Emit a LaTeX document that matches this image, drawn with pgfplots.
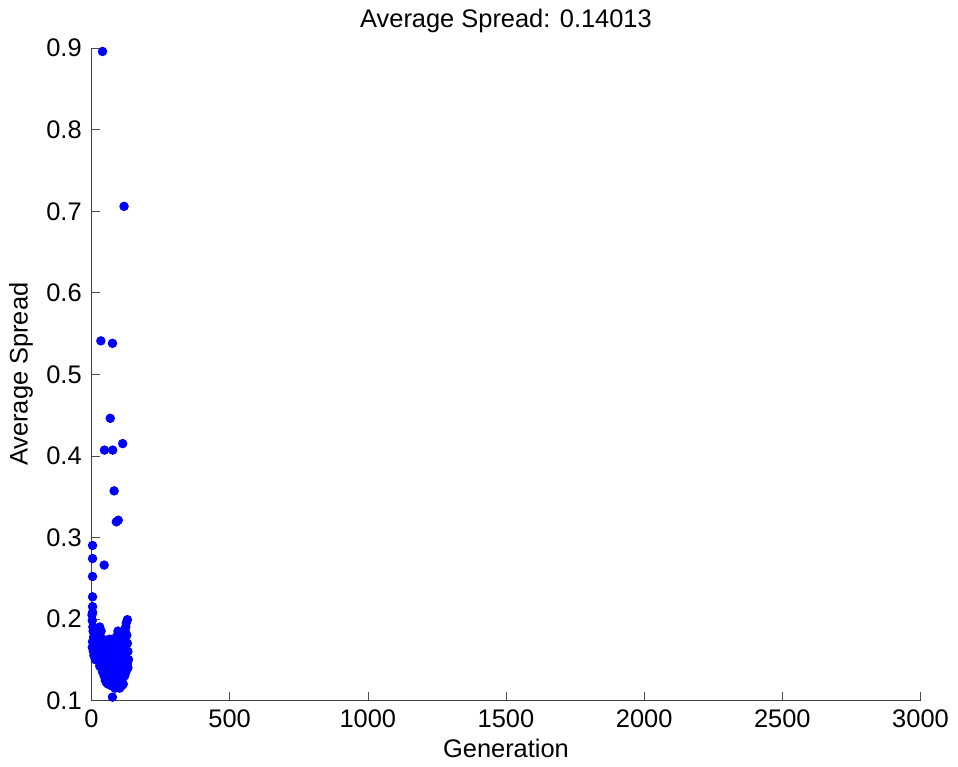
\documentclass[border=0pt]{standalone}
\usepackage{pgfplots}
\pgfplotsset{compat=1.18}
\usepackage{fontspec}
\setmainfont{Liberation Sans}

\begin{document}
\begin{tikzpicture}
\begin{axis}[
  scale only axis,
  width=300pt, height=236pt,
  xmin=0, xmax=3000, ymin=0.1, ymax=0.9,
  axis x line*=bottom, axis y line*=left,
  axis line style={-, black!75},
  xtick={0,500,...,3000},
  ytick={0.1,0.2,...,0.9},
  tick align=inside,
  major tick length=3pt,
  tick style={black!70},
  /pgf/number format/assume math mode=true,
  xticklabel style={/pgf/number format/1000 sep={}},
  yticklabel style={/pgf/number format/.cd, fixed, fixed zerofill, precision=1},
  ticklabel style={font=\fontsize{9.2}{11}\selectfont},
  label style={font=\fontsize{9.2}{11}\selectfont},
  title style={font=\fontsize{9.2}{11}\selectfont, yshift=-4pt},
  title={Average Spread: 0.14013},
  xlabel={Generation},
  ylabel={Average Spread},
  xlabel style={yshift=3pt},
  ylabel style={yshift=-2pt},
  clip=false,
]
\addplot[only marks, mark=*, mark size=1.5pt, color=blue, mark options={fill=blue, draw=blue}]
coordinates {
(40,0.896) (118,0.706) (34,0.541) (76,0.538) (68,0.446) (47,0.407) (77,0.407)
(113,0.415) (82,0.357) (90,0.319) (97,0.321) (4,0.290) (4,0.274) (46,0.266)
(4,0.252) (4,0.227) (4,0.215) (4,0.208) (130,0.199) (76,0.104)
(2,0.205) (3,0.198) (5,0.190) (6,0.185) (8,0.178) (4,0.172) (10,0.170)
(12,0.165) (7,0.160) (15,0.175) (18,0.168) (20,0.160) (3,0.165) (9,0.155)
(14,0.150) (22,0.182) (25,0.175) (28,0.170) (30,0.190) (35,0.185) (33,0.165)
(38,0.160) (40,0.155) (42,0.175) (45,0.170) (24,0.155) (27,0.148) (30,0.142)
(34,0.150) (36,0.140) (40,0.135) (44,0.145) (48,0.150) (50,0.160) (46,0.130)
(50,0.125) (52,0.140) (55,0.135) (55,0.155) (58,0.148) (60,0.120) (62,0.130)
(64,0.140) (66,0.150) (68,0.160) (60,0.165) (65,0.175) (70,0.130) (72,0.118)
(74,0.125) (76,0.140) (78,0.150) (80,0.135) (82,0.120) (84,0.128) (86,0.145)
(88,0.155) (90,0.165) (92,0.175) (94,0.180) (85,0.170) (80,0.160) (96,0.185)
(98,0.170) (100,0.160) (102,0.150) (104,0.140) (106,0.130) (108,0.120)
(110,0.125) (112,0.135) (114,0.145) (116,0.155) (118,0.165) (120,0.175)
(122,0.185) (124,0.190) (126,0.195) (128,0.180) (130,0.170) (132,0.160)
(134,0.150) (130,0.145) (128,0.140) (125,0.135) (120,0.130) (115,0.120)
(95,0.118) (90,0.122) (100,0.128) (96,0.135) (92,0.140) (88,0.132) (105,0.145)
(110,0.155) (108,0.165) (112,0.172) (100,0.175) (104,0.180) (70,0.145)
(72,0.155) (74,0.165) (78,0.170) (75,0.175) (65,0.160) (58,0.128) (54,0.122)
(85,0.115) (20,0.188) (26,0.165) (16,0.158) (118,0.140) (122,0.150) (126,0.160)
(132,0.140) (102,0.115) (110,0.118) (62,0.145) (68,0.135) (44,0.160) (36,0.170)
};
\end{axis}
\end{tikzpicture}
\end{document}
